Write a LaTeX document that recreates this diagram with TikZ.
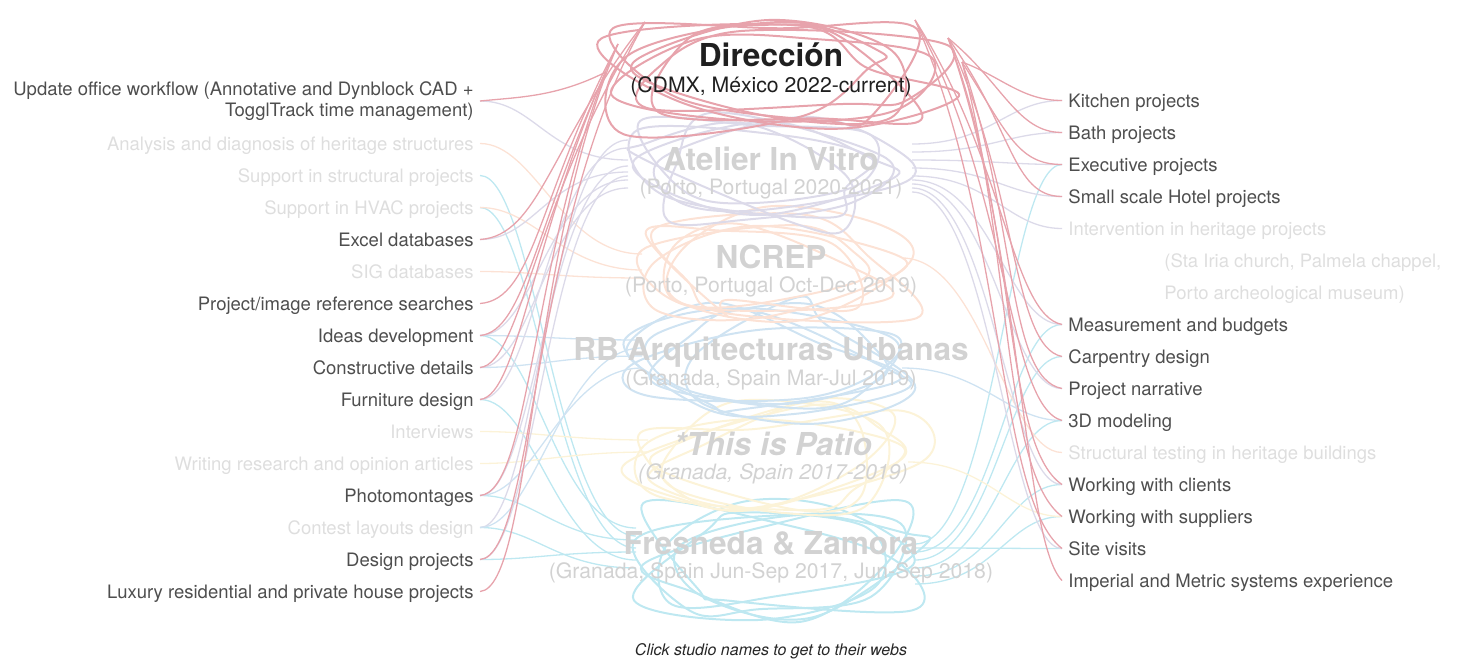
\documentclass[tikz,border=0pt]{standalone}
\usepackage{fontspec}
\setmainfont{TeX Gyre Heros}
\definecolor{dirred}{RGB}{231,163,172}
\definecolor{atelcol}{RGB}{220,218,233}
\definecolor{ncrepcol}{RGB}{252,226,213}
\definecolor{rbcol}{RGB}{207,227,242}
\definecolor{patiocol}{RGB}{252,243,216}
\definecolor{frescol}{RGB}{190,232,241}
\definecolor{labdark}{RGB}{78,78,78}
\definecolor{labpale}{RGB}{222,222,222}
\definecolor{studiopale}{RGB}{210,210,210}
\pgfdeclarelayer{bg}
\pgfsetlayers{bg,main}

\begin{document}
\begin{tikzpicture}[x=0.5pt, y=-0.5pt,
    skill/.style={font=\fontsize{9.25pt}{10.5pt}\selectfont, inner xsep=3pt, inner ysep=0pt, text height=7pt, text depth=0.5pt},
    lskill/.style={skill, anchor=base east},
    rskill/.style={skill, anchor=base west},
    on/.style={text=labdark},
    off/.style={text=labpale},
    studio/.style={font=\fontsize{15.8pt}{18pt}\selectfont\bfseries, text=studiopale, anchor=base, inner sep=0pt},
    place/.style={font=\fontsize{10.6pt}{12pt}\selectfont, text=studiopale, anchor=base, inner sep=0pt},
    scrib/.style={line width=1pt, line join=round},
    link/.style={line width=0.65pt}]

    \useasboundingbox (0,0) rectangle (1459,659);

    % --- Studios ---
    \node[studio, text=black!88] (dir) at (771,66) {Dirección};
    \node[place, text=black!88] (dir-sub) at (771,92) {(CDMX, México 2022-current)};
    \node[studio] (atel) at (771,170) {Atelier In Vitro};
    \node[place] (atel-sub) at (771,194) {(Porto, Portugal 2020-2021)};
    \node[studio] (ncrep) at (771,268) {NCREP};
    \node[place] (ncrep-sub) at (771,292) {(Porto, Portugal Oct-Dec 2019)};
    \node[studio] (rb) at (771,360) {RB Arquitecturas Urbanas};
    \node[place] (rb-sub) at (771,385) {(Granada, Spain Mar-Jul 2019)};
    \node[studio, font=\fontsize{15.8pt}{18pt}\selectfont\bfseries\itshape] (patio) at (773,455) {*This is Patio};
    \node[place, font=\fontsize{10.6pt}{12pt}\selectfont\itshape] (patio-sub) at (773,479) {(Granada, Spain 2017-2019)};
    \node[studio] (fres) at (771,554) {Fresneda \& Zamora};
    \node[place] (fres-sub) at (771,578) {(Granada, Spain Jun-Sep 2017, Jun-Sep 2018)};

    \node[font=\fontsize{8pt}{9pt}\selectfont\itshape, text=black!85, anchor=base, inner sep=0pt] (note) at (771,655) {Click studio names to get to their webs};

    % --- Skills, left column ---
    \node[font=\fontsize{9.25pt}{10.5pt}\selectfont, text=labdark, inner xsep=3pt, inner ysep=0pt, anchor=east, align=right] (l1) at (480,101) {Update office workflow (Annotative and Dynblock CAD +\\TogglTrack time management)};
    \node[lskill, off] (l2) at (480,150) {Analysis and diagnosis of heritage structures};
    \node[lskill, off] (l3) at (480,182) {Support in structural projects};
    \node[lskill, off] (l4) at (480,214) {Support in HVAC projects};
    \node[lskill, on] (l5) at (480,246) {Excel databases};
    \node[lskill, off] (l6) at (480,278) {SIG databases};
    \node[lskill, on] (l7) at (480,310) {Project/image reference searches};
    \node[lskill, on] (l8) at (480,342) {Ideas development};
    \node[lskill, on] (l9) at (480,374) {Constructive details};
    \node[lskill, on] (l10) at (480,406) {Furniture design};
    \node[lskill, off] (l11) at (480,438) {Interviews};
    \node[lskill, off] (l12) at (480,470) {Writing research and opinion articles};
    \node[lskill, on] (l13) at (480,502) {Photomontages};
    \node[lskill, off] (l14) at (480,534) {Contest layouts design};
    \node[lskill, on] (l15) at (480,566) {Design projects};
    \node[lskill, on] (l16) at (480,598) {Luxury residential and private house projects};

    % --- Skills, right column ---
    \node[rskill, on] (r1) at (1062,107) {Kitchen projects};
    \node[rskill, on] (r2) at (1062,139) {Bath projects};
    \node[rskill, on] (r3) at (1062,171) {Executive projects};
    \node[rskill, on] (r4) at (1062,203) {Small scale Hotel projects};
    \node[rskill, off] (r5) at (1062,235) {Intervention in heritage projects};
    \node[rskill, off] (r6) at (1158,267) {(Sta Iria church, Palmela chappel,};
    \node[rskill, off] (r7) at (1158,299) {Porto archeological museum)};
    \node[rskill, on] (r8) at (1062,331) {Measurement and budgets};
    \node[rskill, on] (r9) at (1062,363) {Carpentry design};
    \node[rskill, on] (r10) at (1062,395) {Project narrative};
    \node[rskill, on] (r11) at (1062,427) {3D modeling};
    \node[rskill, off] (r12) at (1062,459) {Structural testing in heritage buildings};
    \node[rskill, on] (r13) at (1062,491) {Working with clients};
    \node[rskill, on] (r14) at (1062,523) {Working with suppliers};
    \node[rskill, on] (r15) at (1062,555) {Site visits};
    \node[rskill, on] (r16) at (1062,587) {Imperial and Metric systems experience};

    % --- Where the threads meet the scribbles ---
    \coordinate (dir-w1) at (606,72);
    \coordinate (dir-w2) at (618,44);
    \coordinate (dir-w3) at (645,22);
    \coordinate (dir-e1) at (948,38);
    \coordinate (dir-e2) at (915,20);
    \coordinate (dir-e3) at (962,62);
    \coordinate (atel-w) at (628,160);
    \coordinate (atel-e) at (912,152);
    \coordinate (ncrep-w) at (642,262);
    \coordinate (ncrep-e) at (902,258);
    \coordinate (rb-w) at (642,348);
    \coordinate (rb-e) at (902,368);
    \coordinate (patio-w) at (648,446);
    \coordinate (patio-e) at (908,462);
    \coordinate (fres-w) at (636,548);
    \coordinate (fres-e) at (915,560);

    \begin{pgfonlayer}{bg}
    % --- Scribbles round the faded studios ---
    \pgfmathsetseed{31}
    \foreach \cx/\cy/\rx/\ry/\col in {775/562/150/62/frescol, 780/458/145/56/patiocol, 770/360/140/60/rbcol, 772/268/140/56/ncrepcol, 770/170/155/56/atelcol}
        \foreach \k in {1,...,6}
            \draw[scrib, draw=\col, rotate around={16*rnd-8:(\cx,\cy)}] plot[smooth cycle, tension=0.6, samples=6, domain=0:300, variable=\ang]
                ({\cx-12+24*rnd+\rx*(0.62+0.45*rnd)*cos(\ang+50*rnd)}, {\cy-6+12*rnd+\ry*(0.6+0.5*rnd)*sin(\ang+50*rnd)});

    % --- Faded threads ---
    \foreach \src/\dst/\col/\dy in {l1/atel-w/atelcol/0, l2/ncrep-w/ncrepcol/4, l3/fres-w/frescol/6, l4/fres-w/frescol/0, l4/ncrep-w/ncrepcol/-4,
        l5/atel-w/atelcol/-6, l6/ncrep-w/ncrepcol/-8, l8/rb-w/rbcol/4, l8/fres-w/frescol/10, l8/atel-w/atelcol/-10, l9/rb-w/rbcol/-4,
        l9/atel-w/atelcol/-14, l10/fres-w/frescol/-6, l10/atel-w/atelcol/6, l11/patio-w/patiocol/3, l12/patio-w/patiocol/-3,
        l13/fres-w/frescol/4, l13/rb-w/rbcol/-10, l13/atel-w/atelcol/-3, l14/fres-w/frescol/-10, l14/atel-w/atelcol/10,
        l14/rb-w/rbcol/0, l15/fres-w/frescol/-2, l15/atel-w/atelcol/-8}
        \draw[link, draw=\col] (\src.east) .. controls +(55,0) and +(-80,0) .. ([yshift=\dy pt]\dst);
    \foreach \src/\dst/\col/\dy in {r1/atel-e/atelcol/4, r2/atel-e/atelcol/0, r3/atel-e/atelcol/-4, r3/fres-e/frescol/8, r4/atel-e/atelcol/-8,
        r5/atel-e/atelcol/-12, r8/fres-e/frescol/4, r8/atel-e/atelcol/-14, r9/fres-e/frescol/0, r10/atel-e/atelcol/-16,
        r11/rb-e/rbcol/0, r11/fres-e/frescol/-4, r12/ncrep-e/ncrepcol/0, r13/fres-e/frescol/-8, r13/atel-e/atelcol/-18,
        r14/fres-e/frescol/-12, r14/patio-e/patiocol/0, r15/fres-e/frescol/6, r15/atel-e/atelcol/-20}
        \draw[link, draw=\col] (\src.west) .. controls +(-55,0) and +(80,0) .. ([yshift=\dy pt]\dst);

    % --- Dirección scribble and threads ---
    \foreach \k in {1,...,7}
        \draw[scrib, draw=dirred, rotate around={16*rnd-8:(775,72)}] plot[smooth cycle, tension=0.6, samples=6, domain=0:300, variable=\ang]
            ({763+24*rnd+170*(0.62+0.45*rnd)*cos(\ang+50*rnd)}, {66+12*rnd+58*(0.6+0.5*rnd)*sin(\ang+50*rnd)});
    \foreach \src/\dst/\u/\vx/\vy in {l1/dir-w1/40/-50/25, l5/dir-w3/60/-95/120, l7/dir-w2/55/-80/150, l8/dir-w1/45/-70/150,
        l9/dir-w3/42/-110/170, l10/dir-w2/40/-85/180, l13/dir-w1/50/-75/190, l15/dir-w3/55/-115/200, l16/dir-w2/52/-90/210}
        \draw[link, draw=dirred] (\src.east) .. controls +(\u,-4) and +(\vx,\vy) .. (\dst);
    \foreach \src/\dst/\u/\uy/\vx/\vy in {r1/dir-e3/40/0/40/15, r2/dir-e1/45/0/55/45, r3/dir-e3/45/0/45/70, r4/dir-e1/50/0/65/90,
        r8/dir-e2/50/-10/90/140, r9/dir-e1/50/-10/70/150, r10/dir-e3/55/-10/55/160, r11/dir-e2/55/-15/95/170,
        r13/dir-e1/60/-40/70/180, r14/dir-e3/60/-45/50/190, r15/dir-e2/65/-50/90/200, r16/dir-e1/40/-40/75/210}
        \draw[link, draw=dirred] (\src.west) .. controls +(-\u,\uy) and +(\vx,\vy) .. (\dst);
    \end{pgfonlayer}

\end{tikzpicture}
\end{document}
